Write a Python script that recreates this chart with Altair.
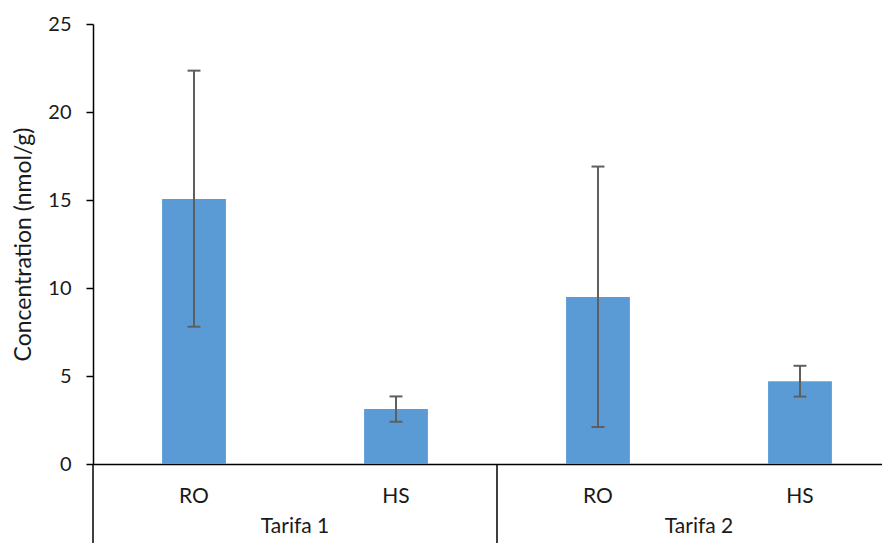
import altair as alt
import pandas as pd

groups = ["Tarifa 1", "Tarifa 1", "Tarifa 2", "Tarifa 2"]
types = ["RO", "HS", "RO", "HS"]
values = [15.06, 3.12, 9.49, 4.70]
err_low = [7.80, 2.40, 2.10, 3.83]
err_high = [22.35, 3.84, 16.90, 5.58]

FONT = "Lato"
TXT = "#1a1a1a"
BAR = "#5B9BD5"
ERR = "#5f5f5f"

half_bar = 0.158
half_cap = 0.032

df = pd.DataFrame({
    "group": groups, "type": types, "value": values,
    "low": err_low, "high": err_high,
})
df["pos"] = df.index + 0.5
df["x1"] = df["pos"] - half_bar
df["x2"] = df["pos"] + half_bar
df["c1"] = df["pos"] - half_cap
df["c2"] = df["pos"] + half_cap

grp = df.groupby("group", sort=False)["pos"].agg(["min", "max"]).reset_index()
grp["start"] = grp["min"] - 0.5
grp["center"] = (grp["min"] + grp["max"]) / 2

xscale = alt.Scale(domain=[0, 3.906], nice=False, zero=False)
yscale = alt.Scale(domain=[0, 25], nice=False)

base = alt.Chart(df)

bars = base.mark_bar(color=BAR).encode(
    x=alt.X("x1:Q", scale=xscale, axis=alt.Axis(
        title=None, labels=False, ticks=False, grid=False,
        domainColor="black", domainWidth=1.5)),
    x2="x2:Q",
    y=alt.Y("value:Q", scale=yscale, axis=alt.Axis(
        title="Concentration (nmol/g)", values=[0, 5, 10, 15, 20, 25],
        grid=False, domainColor="black", domainWidth=1.5,
        tickColor="black", tickSize=7, tickWidth=1.5,
        labelFont=FONT, labelFontSize=20, labelColor=TXT, labelPadding=15,
        titleFont=FONT, titleFontSize=23, titleColor=TXT,
        titleFontWeight="normal", titlePadding=12)),
    y2=alt.datum(0),
)

err = base.mark_rule(color=ERR, strokeWidth=2).encode(
    x="pos:Q", y="low:Q", y2="high:Q")
cap_hi = base.mark_rule(color=ERR, strokeWidth=2).encode(
    x="c1:Q", x2="c2:Q", y="high:Q")
cap_lo = base.mark_rule(color=ERR, strokeWidth=2).encode(
    x="c1:Q", x2="c2:Q", y="low:Q")

sub_labels = base.mark_text(font=FONT, fontSize=21, color=TXT, baseline="middle").encode(
    x="pos:Q", y=alt.value(473), text="type:N")

gbase = alt.Chart(grp)
dividers = gbase.mark_rule(color="black", strokeWidth=1.5).encode(
    x="start:Q", y=alt.value(440), y2=alt.value(535))
grp_labels = gbase.mark_text(font=FONT, fontSize=21, color=TXT, baseline="middle").encode(
    x="center:Q", y=alt.value(503), text="group:N")

chart = alt.layer(bars, err, cap_hi, cap_lo, sub_labels, dividers, grp_labels).properties(
    width=789, height=440,
    autosize=alt.AutoSizeParams(type="none"),
    padding={"left": 85, "top": 16, "right": 0, "bottom": 79},
).configure_view(stroke=None)

chart.save("out.html", embed_options={"renderer": "svg", "actions": False})
